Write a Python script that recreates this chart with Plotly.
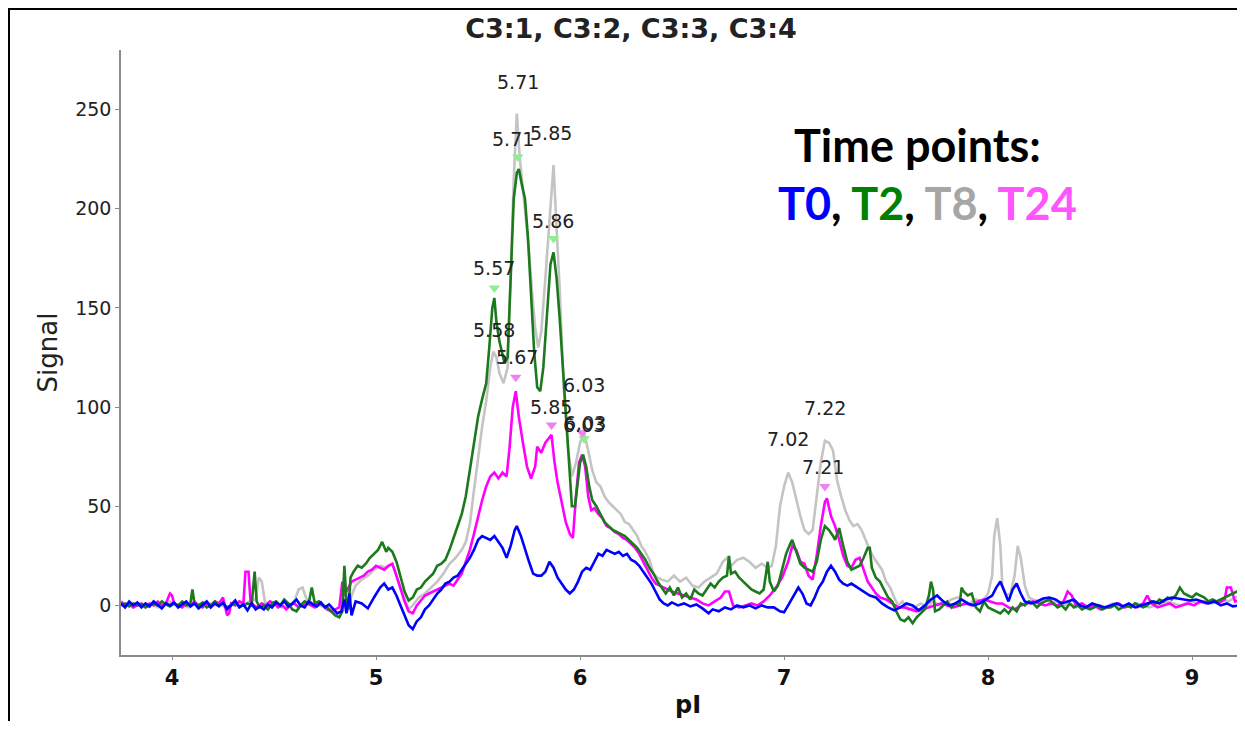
import plotly.graph_objects as go

# ---- data (pI, Signal) ----
T0 = [(3.75,1),(3.77,-1),(3.79,2),(3.81,0),(3.83,1.5),(3.85,-1),(3.87,1),(3.89,-0.5),(3.91,2),(3.93,0),(3.95,-1.5),(3.97,1),(3.99,0),(4.01,1.5),(4.03,-1),(4.05,0.5),(4.07,2),(4.09,-0.5),(4.11,1),(4.13,-1.5),(4.15,0.5),(4.17,2),(4.19,-1),(4.21,1),(4.23,-0.5),(4.25,1.5),(4.27,-2),(4.29,0),(4.31,2.5),(4.33,-1),(4.35,0.5),(4.37,-2.5),(4.39,1),(4.41,-2),(4.43,-0.5),(4.45,-2),(4.47,0.5),(4.49,-1),(4.51,1.5),(4.53,0),(4.55,2),(4.57,-0.5),(4.59,1),(4.61,3),(4.63,0),(4.65,-1),(4.67,2),(4.69,0.5),(4.71,-0.5),(4.73,1.5),(4.75,-1),(4.77,0.5),(4.79,-2),(4.81,-4),(4.83,-3),(4.845,3),(4.855,-4),(4.87,6),(4.88,-5),(4.90,2),(4.93,1),(4.96,-1.5),(4.99,4),(5.02,9),(5.04,11),(5.06,8),(5.08,9),(5.10,5),(5.12,0),(5.14,-5),(5.16,-10),(5.18,-12),(5.20,-8),(5.22,-6),(5.24,-2),(5.26,0),(5.28,3),(5.30,6),(5.32,8),(5.34,11),(5.36,12),(5.38,14),(5.40,15),(5.42,18),(5.44,21),(5.46,24),(5.48,28),(5.50,33),(5.52,35),(5.54,34),(5.56,33),(5.58,35),(5.60,32),(5.62,29),(5.64,24),(5.66,30),(5.68,38),(5.69,40),(5.71,35),(5.73,28),(5.75,22),(5.77,16),(5.79,15),(5.81,15),(5.83,17),(5.85,22),(5.87,19),(5.89,14),(5.91,11),(5.93,8),(5.95,6),(5.97,8),(5.99,12),(6.01,17),(6.03,19),(6.05,18),(6.07,22),(6.09,26),(6.11,25),(6.13,28),(6.15,27),(6.17,26),(6.19,27),(6.21,25),(6.23,26),(6.25,23),(6.27,22),(6.29,20),(6.31,17),(6.33,14),(6.35,11),(6.37,7),(6.39,3),(6.41,1),(6.43,0),(6.45,1.5),(6.48,0),(6.51,1),(6.54,-0.5),(6.57,0.5),(6.60,-1.5),(6.63,-4),(6.65,-2),(6.68,-3),(6.71,-1),(6.74,-2),(6.77,0),(6.80,-1),(6.83,0),(6.86,-1.5),(6.89,0),(6.92,-1),(6.95,-1),(6.98,-3),(7.00,-3.5),(7.02,0),(7.05,5),(7.07,9),(7.09,6),(7.11,1),(7.13,0),(7.15,4),(7.17,9),(7.19,12),(7.21,17),(7.23,20),(7.25,17),(7.27,13),(7.29,11),(7.31,10),(7.33,11),(7.36,9),(7.39,7),(7.42,5),(7.45,4),(7.48,1),(7.51,-1),(7.54,-2.5),(7.57,-1),(7.60,1),(7.63,0),(7.66,-2.5),(7.69,0),(7.72,3),(7.75,5),(7.78,2),(7.81,0),(7.84,1),(7.87,3),(7.90,1),(7.93,0),(7.96,1),(7.99,3),(8.02,5),(8.04,9),(8.06,12),(8.08,7),(8.10,2),(8.12,8),(8.14,11),(8.16,6),(8.18,2),(8.21,1),(8.24,2),(8.27,3.5),(8.30,4),(8.33,3),(8.36,1),(8.39,2),(8.42,3),(8.45,0),(8.48,-1),(8.51,1),(8.54,0),(8.57,-1),(8.60,0),(8.63,1),(8.66,-0.5),(8.69,1),(8.72,-1),(8.75,0),(8.78,1),(8.81,2),(8.84,1),(8.87,3),(8.90,4),(8.93,3.5),(8.96,3),(8.99,2.5),(9.02,3),(9.05,2),(9.08,1),(9.11,2),(9.14,0),(9.17,1),(9.20,-0.5),(9.23,0),(9.26,-2)]

T2 = [(3.75,0),(3.77,1),(3.79,-0.5),(3.81,1),(3.83,0),(3.85,0.5),(3.87,-1),(3.89,0),(3.91,1),(3.93,0),(3.95,2),(3.97,0.5),(3.99,-0.5),(4.01,1),(4.03,0),(4.05,2),(4.07,0),(4.09,1),(4.10,8),(4.11,1),(4.13,0),(4.15,1.5),(4.17,-1),(4.19,0),(4.21,2),(4.23,0),(4.25,1),(4.27,-1),(4.29,0),(4.31,1),(4.33,-0.5),(4.35,0),(4.37,1),(4.39,0),(4.405,17),(4.415,2),(4.43,-1),(4.45,0),(4.47,-2),(4.49,1),(4.51,2),(4.53,0),(4.55,3),(4.57,1),(4.59,-2),(4.61,-3),(4.63,0),(4.65,2),(4.67,1),(4.685,9),(4.70,1),(4.72,2),(4.74,0),(4.76,-1),(4.78,-3),(4.80,-5),(4.82,-6),(4.835,-3),(4.845,20),(4.855,2),(4.865,-2),(4.875,14),(4.89,17),(4.91,20),(4.93,19),(4.95,21),(4.97,24),(4.99,26),(5.01,28),(5.03,32),(5.05,27),(5.06,29),(5.08,27),(5.10,22),(5.12,14),(5.14,7),(5.16,2.5),(5.18,4),(5.20,8),(5.22,9),(5.24,12),(5.26,14),(5.28,16),(5.30,20),(5.32,21),(5.34,23),(5.36,28),(5.38,34),(5.40,40),(5.42,46),(5.44,55),(5.46,68),(5.48,80),(5.50,95),(5.52,104),(5.54,112),(5.555,130),(5.57,150),(5.58,155),(5.59,143),(5.605,133),(5.62,126),(5.63,122),(5.645,125),(5.66,170),(5.675,205),(5.69,218),(5.70,220),(5.715,212),(5.73,205),(5.745,185),(5.76,155),(5.775,128),(5.79,110),(5.805,108),(5.82,120),(5.84,150),(5.855,172),(5.87,178),(5.885,165),(5.90,145),(5.915,120),(5.93,95),(5.945,70),(5.96,50),(5.975,50),(5.99,62),(6.00,72),(6.015,76),(6.03,70),(6.045,60),(6.06,53),(6.08,50),(6.10,46),(6.12,42),(6.14,40),(6.16,38),(6.18,37),(6.20,36),(6.22,35),(6.24,33),(6.26,31),(6.28,29),(6.30,26),(6.32,23),(6.34,19),(6.36,16),(6.38,12),(6.40,9),(6.42,6),(6.44,9),(6.46,5),(6.48,9),(6.50,4),(6.52,6),(6.54,3),(6.56,8),(6.58,6),(6.60,5),(6.62,8),(6.64,11),(6.66,9),(6.68,12),(6.70,14),(6.72,15),(6.73,25),(6.74,16),(6.76,17),(6.78,14),(6.80,12),(6.82,10),(6.84,8),(6.86,7),(6.88,6),(6.90,8),(6.92,22),(6.93,12),(6.95,7),(6.97,10),(6.99,18),(7.01,26),(7.03,31),(7.04,33),(7.06,27),(7.08,21),(7.10,19),(7.12,18),(7.14,17),(7.16,22),(7.18,33),(7.20,40),(7.22,38),(7.24,35),(7.25,33),(7.26,36),(7.27,39),(7.29,30),(7.31,22),(7.33,18),(7.35,19),(7.37,20),(7.39,24),(7.41,29),(7.42,29),(7.43,19),(7.45,14),(7.47,12),(7.49,8),(7.51,4),(7.53,2),(7.55,-3),(7.57,-7),(7.59,-8),(7.61,-6),(7.63,-9),(7.65,-6),(7.67,-4),(7.69,-2),(7.71,5),(7.72,12),(7.73,8),(7.74,-3),(7.76,-2),(7.78,0),(7.80,2),(7.82,-1),(7.84,1),(7.86,0),(7.87,9),(7.88,7),(7.90,5),(7.92,6),(7.94,-1),(7.96,-3),(7.98,2),(8.00,-1),(8.02,-2),(8.04,-3),(8.06,-4),(8.08,-2),(8.10,-4),(8.12,-1),(8.14,-3),(8.16,1),(8.18,0),(8.20,2),(8.22,1),(8.24,-1),(8.26,1),(8.28,2),(8.30,3),(8.32,1),(8.34,-1),(8.36,0),(8.38,-2),(8.40,1),(8.42,-1),(8.44,0),(8.46,-2),(8.48,-1),(8.50,-2),(8.52,-1),(8.54,0),(8.56,-2),(8.58,-1),(8.60,-1),(8.62,0),(8.64,-2),(8.66,-1),(8.68,0),(8.70,-1),(8.72,1),(8.74,0),(8.76,-1),(8.78,0),(8.80,2),(8.82,1),(8.84,3),(8.86,2),(8.88,4),(8.90,3),(8.92,5),(8.94,9),(8.96,6),(8.98,5),(9.00,4),(9.02,6),(9.04,5),(9.06,4),(9.08,2),(9.10,3),(9.12,2),(9.14,3),(9.16,4),(9.18,5),(9.20,6),(9.22,7),(9.24,8),(9.26,7)]

T8 = [(3.75,0),(3.78,1),(3.81,-1),(3.84,1),(3.87,0),(3.90,1),(3.93,-1),(3.96,0),(3.99,2),(4.02,0),(4.05,1),(4.08,-1),(4.11,1),(4.14,0),(4.17,2),(4.20,0),(4.23,1),(4.26,-1),(4.29,0),(4.32,1),(4.35,0),(4.38,2),(4.41,3),(4.425,14),(4.44,12),(4.455,2),(4.48,0),(4.51,1),(4.54,-1),(4.57,0),(4.60,2),(4.62,8),(4.64,9),(4.66,3),(4.69,1),(4.72,0),(4.75,-1),(4.78,-2),(4.81,-4),(4.83,-2),(4.845,8),(4.86,-3),(4.88,5),(4.90,10),(4.93,13),(4.96,15),(4.99,18),(5.02,20),(5.05,19),(5.08,21),(5.11,12),(5.14,3),(5.16,-2),(5.18,0),(5.21,4),(5.24,6),(5.27,9),(5.30,12),(5.33,16),(5.36,21),(5.39,24),(5.42,28),(5.44,32),(5.46,41),(5.48,58),(5.50,75),(5.52,90),(5.54,103),(5.56,120),(5.575,128),(5.59,125),(5.605,117),(5.625,112),(5.645,120),(5.66,165),(5.675,215),(5.69,248),(5.705,225),(5.72,210),(5.735,195),(5.75,178),(5.765,158),(5.78,140),(5.795,130),(5.81,138),(5.83,165),(5.85,195),(5.87,222),(5.885,190),(5.90,160),(5.92,110),(5.94,80),(5.96,65),(5.98,72),(6.00,82),(6.02,87),(6.04,78),(6.06,68),(6.08,62),(6.10,60),(6.12,55),(6.14,52),(6.16,50),(6.18,48),(6.20,46),(6.22,42),(6.24,41),(6.26,38),(6.28,35),(6.30,30),(6.32,27),(6.34,23),(6.36,16),(6.38,14),(6.40,13),(6.43,12),(6.46,15),(6.49,12),(6.52,14),(6.55,10),(6.58,9),(6.61,12),(6.64,14),(6.67,16),(6.70,22),(6.72,24),(6.74,20),(6.77,23),(6.80,24),(6.83,22),(6.86,19),(6.89,21),(6.92,19),(6.94,20),(6.96,30),(6.98,50),(7.00,60),(7.02,67),(7.04,62),(7.06,53),(7.08,45),(7.10,38),(7.12,36),(7.14,38),(7.16,55),(7.18,72),(7.20,83),(7.22,82),(7.24,78),(7.26,63),(7.28,55),(7.30,48),(7.32,43),(7.34,40),(7.36,41),(7.38,38),(7.40,33),(7.42,28),(7.44,24),(7.46,21),(7.48,18),(7.50,12),(7.52,9),(7.54,4),(7.56,0),(7.58,2),(7.61,-2),(7.64,-1),(7.67,1),(7.70,-1),(7.73,2),(7.76,0),(7.79,1),(7.82,3),(7.85,4),(7.88,2),(7.91,1),(7.94,3),(7.97,2),(8.00,6),(8.02,15),(8.03,35),(8.045,44),(8.06,30),(8.07,10),(8.09,5),(8.11,6),(8.13,15),(8.145,30),(8.16,24),(8.18,10),(8.20,4),(8.22,3),(8.25,2),(8.28,3),(8.31,1),(8.34,2),(8.37,0),(8.40,1),(8.43,-1),(8.46,0),(8.49,-2),(8.52,-1),(8.55,0),(8.58,-1),(8.61,1),(8.64,0),(8.67,-1),(8.70,0),(8.73,1),(8.76,0),(8.79,-1),(8.82,0),(8.85,1),(8.88,2),(8.91,1),(8.94,0),(8.97,1),(9.00,2),(9.03,1),(9.06,2),(9.09,1),(9.12,2),(9.15,3),(9.18,2),(9.21,4),(9.24,5),(9.26,4)]

T24 = [(3.75,2),(3.77,0),(3.79,1),(3.81,-1),(3.83,0),(3.85,1),(3.87,-0.5),(3.89,1),(3.91,0),(3.93,2),(3.95,0),(3.97,1),(3.99,6),(4.00,5),(4.01,1),(4.03,0),(4.05,-1),(4.07,1),(4.09,0),(4.11,2),(4.13,0),(4.15,-1),(4.17,1),(4.19,0),(4.21,2),(4.23,1),(4.25,4),(4.27,-5),(4.28,-4),(4.29,1),(4.31,0),(4.33,2),(4.35,1),(4.36,17),(4.375,17),(4.385,2),(4.40,0),(4.42,-1),(4.44,1),(4.46,0),(4.48,2),(4.50,1),(4.52,-1),(4.54,0),(4.56,-2),(4.58,0),(4.60,1),(4.62,-1),(4.64,0),(4.66,1),(4.68,0),(4.70,-1),(4.72,1),(4.74,0),(4.76,-2),(4.78,-3),(4.80,-2),(4.82,-1),(4.835,12),(4.845,5),(4.86,8),(4.88,12),(4.90,13),(4.92,14),(4.94,15),(4.96,17),(4.98,18),(5.00,20),(5.02,19),(5.04,18),(5.06,20),(5.08,21),(5.10,15),(5.12,8),(5.14,2),(5.16,-3),(5.18,-4),(5.20,0),(5.22,2.5),(5.24,5),(5.26,6),(5.28,7),(5.30,8),(5.32,9),(5.34,10),(5.36,11),(5.38,10),(5.40,13),(5.42,16),(5.44,22),(5.46,28),(5.48,36),(5.50,45),(5.52,53),(5.54,60),(5.56,65),(5.58,67),(5.60,64),(5.62,67),(5.64,65),(5.655,80),(5.67,100),(5.685,108),(5.70,95),(5.72,82),(5.74,70),(5.76,64),(5.78,70),(5.79,80),(5.81,77),(5.83,82),(5.85,85),(5.86,86),(5.875,72),(5.89,62),(5.91,52),(5.93,42),(5.95,36),(5.965,34),(5.98,55),(5.995,72),(6.01,76),(6.025,70),(6.04,55),(6.055,48),(6.07,49),(6.09,46),(6.11,44),(6.13,40),(6.15,39),(6.17,37),(6.19,36),(6.21,34),(6.23,33),(6.25,31),(6.27,29),(6.29,26),(6.31,22),(6.33,18),(6.35,14),(6.37,11),(6.39,10),(6.41,9),(6.43,8),(6.45,7),(6.48,6),(6.51,5),(6.54,4),(6.57,3),(6.60,1),(6.63,0),(6.66,2),(6.69,4),(6.71,7),(6.73,7),(6.75,0),(6.78,-1),(6.81,0),(6.84,1),(6.87,0),(6.90,2),(6.93,5),(6.96,9),(6.99,14),(7.02,22),(7.04,30),(7.06,28),(7.08,22),(7.10,21),(7.12,15),(7.14,13),(7.16,25),(7.18,40),(7.20,52),(7.21,54),(7.23,45),(7.25,40),(7.27,33),(7.29,25),(7.31,20),(7.33,19),(7.35,23),(7.37,24),(7.39,18),(7.41,12),(7.43,9),(7.45,6),(7.47,4),(7.50,3),(7.53,1),(7.56,-1),(7.59,-1),(7.62,-2),(7.65,-3),(7.68,-2),(7.71,-1),(7.74,0),(7.77,1),(7.80,0),(7.83,-1),(7.86,0),(7.89,1),(7.92,0),(7.95,2),(7.98,3),(8.01,2),(8.04,1),(8.07,1),(8.10,-1),(8.13,-2),(8.16,0),(8.19,1),(8.22,2),(8.25,1),(8.28,0),(8.31,1),(8.34,0),(8.37,2),(8.39,7),(8.41,5),(8.43,0),(8.46,1),(8.49,-1),(8.52,0),(8.55,-2),(8.58,-1),(8.61,0),(8.64,1),(8.67,-1),(8.70,0),(8.73,-1),(8.76,1),(8.78,5),(8.80,1),(8.83,-1),(8.86,0),(8.89,1),(8.92,-1),(8.95,0),(8.98,1),(9.01,0),(9.04,2),(9.07,1),(9.10,2),(9.13,1),(9.16,3),(9.17,9),(9.19,9),(9.21,2),(9.24,3),(9.26,2)]

# peak markers (downward triangles)
t2_peak_x = [5.58, 5.695, 5.87, 6.02]
t2_peak_y = [160, 226, 185, 84]
t24_peak_x = [5.685, 5.86, 6.01, 7.20]
t24_peak_y = [115, 91, 87, 60]

# peak labels
label_text = ["5.71", "5.71", "5.85", "5.86", "5.57", "5.58", "5.67", "6.03", "5.85", "6.03", "6.03", "7.22", "7.02", "7.21"]
label_x = [5.696, 5.67, 5.86, 5.868, 5.58, 5.58, 5.69, 6.02, 5.86, 6.025, 6.02, 7.20, 7.02, 7.19]
label_y = [264, 235, 238, 194, 170, 139, 125, 111, 100, 92, 91, 99.5, 84, 70]

series = [("T8", T8, "#C4C4C4"), ("T24", T24, "#FF00FF"), ("T2", T2, "#1C7A1C"), ("T0", T0, "#0000FF")]

# page geometry: the browser body has an 8px margin, so the figure is offset by 8px
OFF = 8
W, H = 1229, 713
PL, PR_, PT, PB = 121, 1237, 50, 655          # target plot-area edges in window pixels
PW, PH = PR_ - PL, PB - PT


def px(wx):
    return (wx - PL) / PW


def py(wy):
    return 1 + (PT - wy) / PH


fig = go.Figure()
for name, pts, col in series:
    xs = [p[0] for p in pts]
    ys = [p[1] for p in pts]
    fig.add_trace(go.Scatter(x=xs, y=ys, mode="lines", name=name,
                             line=dict(color=col, width=2.6), showlegend=False))

fig.add_trace(go.Scatter(x=t2_peak_x, y=t2_peak_y, mode="markers", showlegend=False,
                         marker=dict(symbol="triangle-down", size=10, color="#8FEF8F")))
fig.add_trace(go.Scatter(x=t24_peak_x, y=t24_peak_y, mode="markers", showlegend=False,
                         marker=dict(symbol="triangle-down", size=10, color="#EE82EE")))

annots = []
for t, x, y in zip(label_text, label_x, label_y):
    annots.append(dict(x=x, y=y, xref="x", yref="y", text=t, showarrow=False,
                       font=dict(family="DejaVu Sans", size=19, color="#222222"),
                       xanchor="center", yanchor="middle"))

annots.append(dict(x=px(792), y=py(145), xref="paper", yref="paper",
                   text="<b>Time points:</b>", showarrow=False, xanchor="left", yanchor="middle",
                   font=dict(family="Lato", size=45, color="#000000")))
annots.append(dict(x=px(776), y=py(203), xref="paper", yref="paper",
                   text="<b><span style='color:#0000FF'>T0</span>, <span style='color:#008000'>T2</span>, "
                        "<span style='color:#A6A6A6'>T8</span>, <span style='color:#FF55FF'>T24</span></b>",
                   showarrow=False, xanchor="left", yanchor="middle",
                   font=dict(family="Lato", size=45, color="#000000")))
# x-axis title
annots.append(dict(x=px(688), y=py(705), xref="paper", yref="paper", text="<b>pI</b>",
                   showarrow=False, xanchor="center", yanchor="middle",
                   font=dict(family="DejaVu Sans", size=24, color="#111111")))

fig.update_layout(
    width=W, height=H,
    margin=dict(l=PL - OFF, r=W - (PR_ - OFF), t=PT - OFF, b=H - (PB - OFF)),
    paper_bgcolor="white", plot_bgcolor="white",
    title=dict(text="C3:1, C3:2, C3:3, C3:4", x=(631 - OFF) / W, xanchor="center",
               y=1 - (29 - OFF) / H, yanchor="middle",
               font=dict(family="DejaVu Sans", size=27, color="#222222", weight="bold")),
    annotations=annots,
    shapes=[dict(type="rect", xref="paper", yref="paper",
                 x0=px(8.5), x1=1.2, y0=-0.3, y1=py(8.5),
                 line=dict(color="black", width=3), fillcolor="rgba(0,0,0,0)", layer="above")],
    xaxis=dict(range=[3.75, 9.22], showgrid=False, zeroline=False, showline=True, automargin=False,
               linecolor="#8a8a8a", linewidth=1.5, ticks="outside", ticklen=3, tickcolor="#8a8a8a",
               tickvals=[4, 5, 6, 7, 8, 9],
               tickfont=dict(family="DejaVu Sans", size=21, color="#111111", weight="bold")),
    yaxis=dict(range=[-25, 280], showgrid=False, zeroline=False, showline=True, automargin=False,
               linecolor="#8a8a8a", linewidth=1.5, ticks="outside", ticklen=4, tickcolor="#8a8a8a",
               tickvals=[0, 50, 100, 150, 200, 250],
               tickfont=dict(family="DejaVu Sans", size=19, color="#222222"),
               title=dict(text="Signal", font=dict(family="DejaVu Sans", size=26, color="#222222"),
                          standoff=10)),
)

fig.write_html("out.html")
